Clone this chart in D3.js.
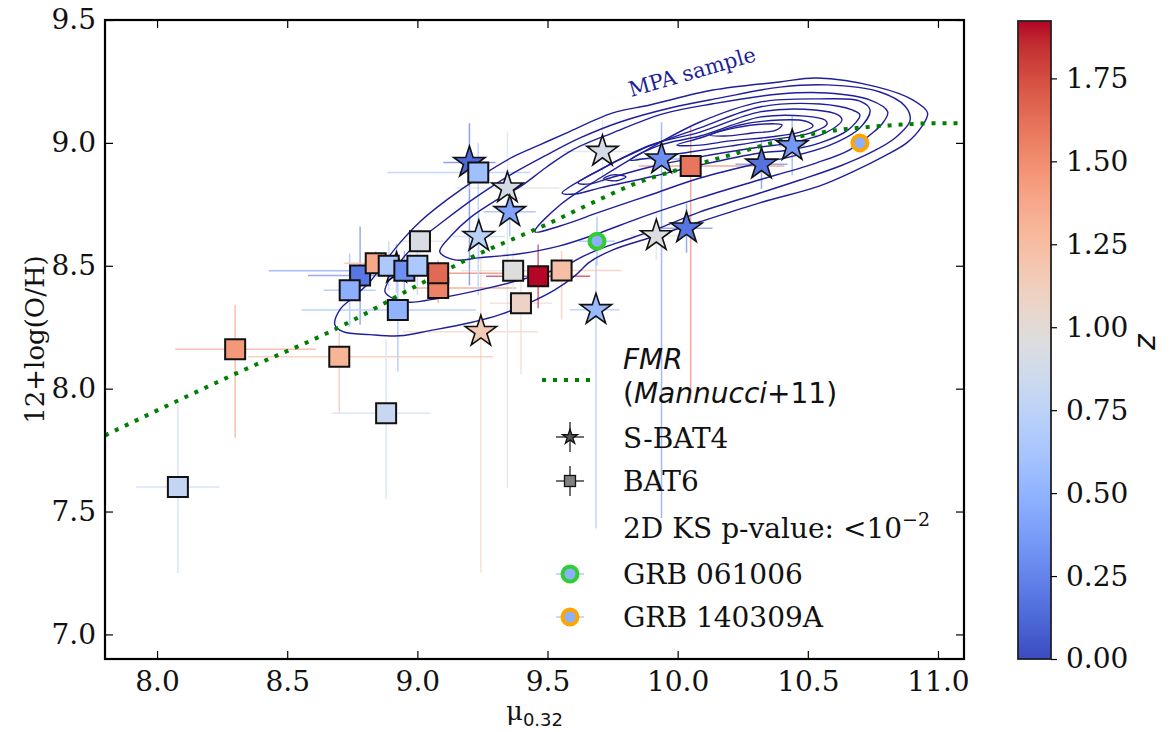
<!DOCTYPE html>
<html><head><meta charset="utf-8">
<script src="https://cdn.jsdelivr.net/npm/d3@7"></script>
<style>body{margin:0;background:#fff} svg{display:block}</style>
</head><body><svg id="c" width="1171" height="732"></svg>
<script>
// ---------------- data ----------------
const xTicks = [8.0, 8.5, 9.0, 9.5, 10.0, 10.5, 11.0];
const yTicks = [7.0, 7.5, 8.0, 8.5, 9.0, 9.5];
const zTicks = [0.00, 0.25, 0.50, 0.75, 1.00, 1.25, 1.50, 1.75];
const zMax = 1.923;

// BAT6 (squares)
const bat6Mu = [8.08, 8.30, 8.70, 8.88, 8.78, 8.74, 8.84, 8.89, 8.95, 9.01, 9.00, 9.08, 9.08, 8.925, 9.234, 9.368, 9.398, 9.464, 9.554, 10.05];
const bat6OH = [7.60, 8.16, 8.13, 7.90, 8.46, 8.40, 8.51, 8.50, 8.48, 8.60, 8.50, 8.41, 8.47, 8.32, 8.88, 8.48, 8.348, 8.457, 8.481, 8.906];
const bat6Z  = [0.78, 1.45, 1.30, 0.81, 0.19, 0.48, 1.37, 0.65, 0.31, 0.93, 0.65, 1.55, 1.65, 0.50, 0.58, 0.96, 1.08, 1.92, 1.24, 1.60];
const bat6MuLo = [0.16, 0.23, 0.35, 0.21, 0.20, 0.10, 0.12, 0.15, 0.52, 0.08, 0.10, 0.10, 0.10, 0.37, 0.35, 0.20, 0.12, 0.20, 0.15, 0.20];
const bat6MuHi = [0.16, 0.31, 0.59, 0.17, 0.20, 0.10, 0.12, 0.15, 0.10, 0.09, 0.10, 0.30, 0.30, 0.30, 0.20, 0.20, 0.12, 0.20, 0.23, 0.36];
const bat6OHLo = [0.35, 0.36, 0.23, 0.35, 0.20, 0.15, 0.05, 0.10, 0.08, 0.05, 0.12, 0.06, 0.05, 0.25, 0.50, 0.08, 0.29, 0.13, 0.20, 0.95];
const bat6OHHi = [0.34, 0.18, 0.10, 0.30, 0.20, 0.15, 0.05, 0.10, 0.08, 0.05, 0.12, 0.06, 0.05, 0.20, 0.12, 0.08, 0.10, 0.13, 0.08, 0.16];

// S-BAT4 (stars)
const sbatMu = [8.92, 9.20, 9.346, 9.355, 9.236, 9.711, 9.244, 9.686, 9.938, 9.918, 10.034, 10.322, 10.44];
const sbatOH = [8.49, 8.92, 8.816, 8.72, 8.619, 8.965, 8.232, 8.321, 8.934, 8.622, 8.653, 8.913, 8.988];
const sbatZ  = [0.50, 0.12, 0.90, 0.42, 0.72, 0.90, 1.15, 0.55, 0.30, 0.95, 0.18, 0.17, 0.35];
const sbatMuLo = [0.10, 0.10, 0.20, 0.10, 0.10, 0.15, 0.30, 0.10, 0.10, 0.10, 0.10, 0.10, 0.05];
const sbatMuHi = [0.10, 0.10, 0.20, 0.10, 0.10, 0.15, 0.22, 0.09, 0.10, 0.10, 0.10, 0.10, 0.05];
const sbatOHLo = [0.10, 0.50, 1.22, 0.10, 0.10, 0.13, 0.98, 0.89, 1.46, 0.10, 0.10, 0.10, 0.12];
const sbatOHHi = [0.10, 0.16, 0.23, 0.10, 0.10, 0.13, 0.30, 0.20, 0.15, 0.10, 0.10, 0.10, 0.12];

// individual GRBs
const grbNames = ["GRB 061006", "GRB 140309A"];
const grbMu = [9.69, 10.70];
const grbOH = [8.60, 9.00];
const grbZ  = [0.48, 0.48];
const grbEdge = ["#32cd32", "#ffa500"];
const grbMuErr = [0.07, 0.0];
const grbOHErr = [0.10, 0.0];

// FMR (Mannucci+11) curve
const fmrMu = [7.8, 8.3, 8.7, 9.0, 9.2, 9.5, 9.7, 9.85, 10.0, 10.2, 10.4, 10.6, 10.8, 11.0, 11.1];
const fmrOH = [7.81, 8.06, 8.25, 8.42, 8.53, 8.67, 8.77, 8.84, 8.89, 8.95, 9.01, 9.05, 9.07, 9.08, 9.08];

// MPA sample density contours (mu, OH) vertices, outermost first
const mpaContours = [
 [[8.683,8.260],[8.702,8.321],[8.752,8.370],[8.818,8.435],[8.875,8.516],[8.933,8.593],[9.010,8.679],[9.113,8.768],[9.240,8.862],[9.367,8.943],[9.470,8.992],[9.574,9.041],[9.751,9.122],[9.893,9.154],[10.135,9.215],[10.392,9.248],[10.534,9.264],[10.765,9.228],[10.903,9.175],[10.960,9.122],[10.937,9.065],[10.880,9.000],[10.788,8.943],[10.688,8.890],[10.546,8.825],[10.315,8.756],[10.085,8.679],[9.893,8.614],[9.751,8.565],[9.663,8.516],[9.605,8.459],[9.528,8.402],[9.432,8.350],[9.317,8.301],[9.202,8.268],[9.048,8.236],[8.933,8.215],[8.818,8.220],[8.714,8.232]],
 [[8.876,8.393],[8.903,8.463],[8.933,8.515],[9.010,8.605],[9.106,8.686],[9.221,8.776],[9.356,8.869],[9.490,8.947],[9.625,9.020],[9.779,9.085],[9.971,9.142],[10.163,9.183],[10.393,9.227],[10.574,9.236],[10.777,9.207],[10.873,9.150],[10.893,9.093],[10.835,9.020],[10.739,8.959],[10.624,8.906],[10.470,8.849],[10.316,8.796],[10.086,8.719],[9.932,8.654],[9.779,8.597],[9.690,8.564],[9.625,8.532],[9.560,8.495],[9.394,8.442],[9.241,8.402],[9.087,8.369],[8.953,8.353]],
 [[9.086,8.557],[9.133,8.626],[9.202,8.695],[9.305,8.768],[9.394,8.821],[9.497,8.902],[9.597,8.972],[9.751,9.041],[9.943,9.118],[10.135,9.159],[10.392,9.199],[10.573,9.203],[10.738,9.175],[10.807,9.126],[10.788,9.081],[10.749,9.041],[10.661,8.972],[10.534,8.919],[10.315,8.850],[10.085,8.776],[9.855,8.695],[9.701,8.634],[9.547,8.581],[9.394,8.549],[9.240,8.533],[9.144,8.524]],
 [[9.452,8.638],[9.548,8.747],[9.702,8.857],[9.894,8.979],[10.086,9.085],[10.316,9.166],[10.547,9.179],[10.700,9.170],[10.739,9.134],[10.700,9.061],[10.585,8.991],[10.432,8.943],[10.316,8.918],[10.086,8.857],[9.894,8.788],[9.702,8.719],[9.548,8.662]],
 [[9.556,8.796],[9.663,8.869],[9.855,8.971],[10.086,9.061],[10.316,9.146],[10.547,9.158],[10.670,9.134],[10.700,9.114],[10.654,9.052],[10.547,9.000],[10.432,8.971],[10.316,8.959],[10.086,8.910],[9.894,8.861],[9.702,8.817],[9.606,8.792]],
 [[9.617,8.837],[9.702,8.890],[9.894,8.991],[10.086,9.044],[10.316,9.126],[10.528,9.134],[10.616,9.114],[10.631,9.093],[10.566,9.040],[10.432,9.000],[10.316,8.983],[10.086,8.943],[9.894,8.902],[9.740,8.857],[9.663,8.833]],
 [[9.817,8.930],[9.932,8.991],[10.086,9.028],[10.316,9.105],[10.489,9.109],[10.566,9.093],[10.574,9.077],[10.508,9.040],[10.355,9.012],[10.201,8.987],[10.047,8.963],[9.894,8.939]],
 [[9.997,8.991],[10.086,9.020],[10.239,9.073],[10.393,9.093],[10.489,9.089],[10.520,9.069],[10.470,9.044],[10.355,9.024],[10.201,9.008],[10.086,8.991]],
 [[10.124,9.032],[10.220,9.061],[10.336,9.077],[10.401,9.073],[10.378,9.052],[10.286,9.040],[10.182,9.028]],
 [[9.716,8.854],[9.751,8.870],[9.801,8.862],[9.766,8.846]]
];

// coolwarm colormap stops
const coolwarm = [[59,76,192],[68,90,204],[77,104,215],[87,117,225],[98,130,234],[108,142,241],[119,154,247],[130,165,251],[141,176,254],[152,185,255],[163,194,255],[174,201,253],[184,208,249],[194,213,244],[204,217,238],[213,219,230],[221,221,221],[229,216,209],[236,211,197],[241,204,184],[245,196,172],[247,187,160],[247,177,148],[247,166,137],[244,154,123],[241,141,112],[236,127,99],[229,112,88],[222,96,77],[213,80,66],[203,62,56],[192,40,47],[180,4,38]];

// ---------------- drawing ----------------
const svg = d3.select("#c");
const L = 105, R = 964, T = 20, B = 659;
const x = d3.scaleLinear([7.8, 11.1], [L, R]);
const y = d3.scaleLinear([6.9, 9.5], [B, T]);
const color = d3.scaleLinear()
  .domain(coolwarm.map((c, i) => i / 32 * zMax))
  .range(coolwarm.map(c => `rgb(${c[0]},${c[1]},${c[2]})`))
  .clamp(true);

const SERIF = "DejaVu Serif";
const SANS = "DejaVu Sans";
const TICKFS = 28;

svg.append("defs").append("clipPath").attr("id", "clip")
  .append("rect").attr("x", L).attr("y", T).attr("width", R - L).attr("height", B - T);

const plot = svg.append("g").attr("clip-path", "url(#clip)");

// error bars
function errbars(mu, oh, z, mlo, mhi, olo, ohi) {
  const g = plot.append("g").attr("stroke-width", 1.5).attr("opacity", 0.6);
  mu.forEach((m, i) => {
    const c = color(z[i]);
    g.append("line").attr("x1", x(m - mlo[i])).attr("x2", x(m + mhi[i]))
      .attr("y1", y(oh[i])).attr("y2", y(oh[i])).attr("stroke", c);
    g.append("line").attr("x1", x(m)).attr("x2", x(m))
      .attr("y1", y(oh[i] - olo[i])).attr("y2", y(oh[i] + ohi[i])).attr("stroke", c);
  });
}
errbars(sbatMu, sbatOH, sbatZ, sbatMuLo, sbatMuHi, sbatOHLo, sbatOHHi);
errbars(bat6Mu, bat6OH, bat6Z, bat6MuLo, bat6MuHi, bat6OHLo, bat6OHHi);
errbars(grbMu, grbOH, grbZ, grbMuErr, grbMuErr, grbOHErr, grbOHErr);

// contours
const cline = d3.line().x(d => x(d[0])).y(d => y(d[1])).curve(d3.curveCatmullRomClosed.alpha(0.5));
plot.append("g").selectAll("path").data(mpaContours).join("path")
  .attr("d", cline).attr("fill", "none").attr("stroke", "#1f1f99").attr("stroke-width", 1.4);

// FMR line
const fline = d3.line().x((d, i) => x(fmrMu[i])).y((d, i) => y(fmrOH[i])).curve(d3.curveMonotoneX);
plot.append("path").attr("d", fline(fmrMu)).attr("fill", "none").attr("stroke", "#008000")
  .attr("stroke-width", 4).attr("stroke-dasharray", "4,7");

// stars
const starSym = d3.symbol(d3.symbolStar, 305);
plot.append("g").selectAll("path").data(sbatMu).join("path")
  .attr("d", starSym)
  .attr("transform", (d, i) => `translate(${x(d)},${y(sbatOH[i])})`)
  .attr("fill", (d, i) => color(sbatZ[i])).attr("stroke", "#111").attr("stroke-width", 1.6)
  .attr("stroke-linejoin", "miter");

// squares
const sqSym = d3.symbol(d3.symbolSquare, 400);
plot.append("g").selectAll("path").data(bat6Mu).join("path")
  .attr("d", sqSym)
  .attr("transform", (d, i) => `translate(${x(d)},${y(bat6OH[i])})`)
  .attr("fill", (d, i) => color(bat6Z[i])).attr("stroke", "#111").attr("stroke-width", 2);

// GRB circles
plot.append("g").selectAll("circle").data(grbMu).join("circle")
  .attr("cx", d => x(d)).attr("cy", (d, i) => y(grbOH[i])).attr("r", 7.5)
  .attr("fill", (d, i) => color(grbZ[i])).attr("stroke", (d, i) => grbEdge[i]).attr("stroke-width", 4);

// MPA label
svg.append("text").attr("transform", `translate(${x(10.055)},${y(9.289)}) rotate(-16)`)
  .attr("text-anchor", "middle").attr("dy", "0.35em").attr("font-family", SERIF).attr("font-size", 21)
  .attr("fill", "#1f1f99").text("MPA sample");

// axes
const fmt1 = d3.format(".1f");
function styleAxis(g) {
  g.select(".domain").remove();
  g.selectAll(".tick line").attr("stroke", "#000").attr("stroke-width", 1.2);
  g.selectAll(".tick text").attr("font-family", SERIF).attr("font-size", TICKFS).attr("fill", "#111");
}
svg.append("g").attr("transform", `translate(${L},0)`)
  .call(d3.axisLeft(y).tickValues(yTicks).tickFormat(fmt1).tickSizeInner(-8).tickSizeOuter(0).tickPadding(9))
  .call(styleAxis);
svg.append("g").attr("transform", `translate(${R},0)`)
  .call(d3.axisRight(y).tickValues(yTicks).tickFormat("").tickSizeInner(-8).tickSizeOuter(0))
  .call(styleAxis);
svg.append("g").attr("transform", `translate(0,${B})`)
  .call(d3.axisBottom(x).tickValues(xTicks).tickFormat(fmt1).tickSizeInner(-8).tickSizeOuter(0).tickPadding(12))
  .call(styleAxis);
svg.append("g").attr("transform", `translate(0,${T})`)
  .call(d3.axisTop(x).tickValues(xTicks).tickFormat("").tickSizeInner(-8).tickSizeOuter(0))
  .call(styleAxis);
svg.append("rect").attr("x", L).attr("y", T).attr("width", R - L).attr("height", B - T)
  .attr("fill", "none").attr("stroke", "#000").attr("stroke-width", 2.2);

// axis labels
svg.append("text").attr("transform", `translate(44,${(T + B) / 2}) rotate(-90)`)
  .attr("text-anchor", "middle").attr("font-family", SERIF).attr("font-size", 26).attr("fill", "#111")
  .text("12+log(O/H)");
const xl = svg.append("text").attr("x", (L + R) / 2).attr("y", 720).attr("text-anchor", "middle").attr("fill", "#111");
xl.append("tspan").attr("font-family", SERIF).attr("font-size", 26).text("μ");
xl.append("tspan").attr("font-family", SANS).attr("font-size", 18).attr("dy", 6).text("0.32");

// colorbar
const CL = 1018, CR = 1051, CT = 21, CB = 659;
const cz = d3.scaleLinear([0, zMax], [CB, CT]);
const grad = svg.select("defs").append("linearGradient").attr("id", "cw")
  .attr("x1", 0).attr("y1", 1).attr("x2", 0).attr("y2", 0);
grad.selectAll("stop").data(coolwarm).join("stop")
  .attr("offset", (d, i) => i / 32).attr("stop-color", d => `rgb(${d[0]},${d[1]},${d[2]})`);
svg.append("rect").attr("x", CL).attr("y", CT).attr("width", CR - CL).attr("height", CB - CT)
  .attr("fill", "url(#cw)").attr("stroke", "#222").attr("stroke-width", 1.8);
svg.append("g").attr("transform", `translate(${CR},0)`)
  .call(d3.axisRight(cz).tickValues(zTicks).tickFormat(d3.format(".2f")).tickSizeInner(6).tickSizeOuter(0).tickPadding(9))
  .call(styleAxis);
svg.append("text").attr("transform", `translate(1155,342) rotate(-90)`)
  .attr("text-anchor", "middle").attr("font-family", SANS).attr("font-style", "italic")
  .attr("font-size", 30).attr("fill", "#111").text("z");

// legend
const lg = svg.append("g");
const HX = 570, TX = 623;
lg.append("line").attr("x1", 542).attr("x2", 597).attr("y1", 380).attr("y2", 380)
  .attr("stroke", "#008000").attr("stroke-width", 4).attr("stroke-dasharray", "4,7");
const t1 = lg.append("text").attr("x", TX).attr("y", 369).attr("font-family", SANS).attr("font-size", 28).attr("fill", "#111");
t1.append("tspan").attr("font-style", "italic").text("FMR");
const t2 = lg.append("text").attr("x", TX).attr("y", 403).attr("font-family", SANS).attr("font-size", 28).attr("fill", "#111");
t2.append("tspan").text("(");
t2.append("tspan").attr("font-style", "italic").text("Mannucci");
t2.append("tspan").text("+11)");

function cross(cy, col) {
  lg.append("line").attr("x1", HX - 14).attr("x2", HX + 14).attr("y1", cy).attr("y2", cy).attr("stroke", col).attr("stroke-width", 1.3);
}
cross(437, "#222");
lg.append("line").attr("x1", HX).attr("x2", HX).attr("y1", 422).attr("y2", 452).attr("stroke", "#222").attr("stroke-width", 1.3);
lg.append("path").attr("d", d3.symbol(d3.symbolStar, 70)).attr("transform", `translate(${HX},437)`)
  .attr("fill", "#555").attr("stroke", "#111").attr("stroke-width", 1.3);
cross(481, "#222");
lg.append("line").attr("x1", HX).attr("x2", HX).attr("y1", 466).attr("y2", 496).attr("stroke", "#222").attr("stroke-width", 1.3);
lg.append("rect").attr("x", HX - 5.5).attr("y", 481 - 5.5).attr("width", 11).attr("height", 11)
  .attr("fill", "#808080").attr("stroke", "#111").attr("stroke-width", 1.3);

lg.append("text").attr("x", TX).attr("y", 448).attr("font-family", SERIF).attr("font-size", 28).attr("fill", "#111").text("S-BAT4");
lg.append("text").attr("x", TX).attr("y", 491).attr("font-family", SERIF).attr("font-size", 28).attr("fill", "#111").text("BAT6");
const ks = lg.append("text").attr("x", TX).attr("y", 538).attr("font-family", SERIF).attr("font-size", 28).attr("fill", "#111");
ks.append("tspan").text("2D KS p-value: <10");
ks.append("tspan").attr("font-size", 19).attr("dy", -12).text("−2");

const gy = [574, 617];
grbNames.forEach((n, i) => {
  cross(gy[i], "#a9c4fb");
  lg.append("circle").attr("cx", HX).attr("cy", gy[i]).attr("r", 7.5)
    .attr("fill", color(grbZ[i])).attr("stroke", grbEdge[i]).attr("stroke-width", 4);
  lg.append("text").attr("x", TX).attr("y", gy[i] + 10).attr("font-family", SERIF).attr("font-size", 28).attr("fill", "#111").text(n);
});
</script>
</body></html>
